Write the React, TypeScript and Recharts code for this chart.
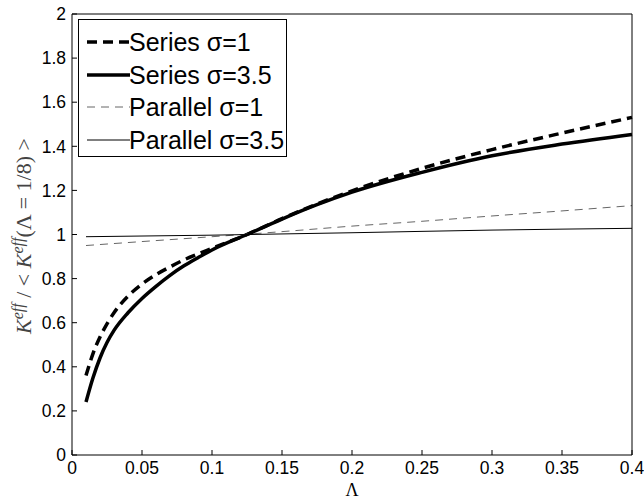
import React from 'react';
import { LineChart, Line, XAxis, YAxis, Legend } from 'recharts';

// Series sigma=1 (thick dashed)
const lambdaSeries1 = [0.01, 0.015, 0.02, 0.025, 0.03, 0.04, 0.05, 0.06, 0.07, 0.08, 0.09, 0.1, 0.125, 0.15, 0.175, 0.2, 0.25, 0.3, 0.35, 0.4];
const kSeries1 = [0.36, 0.46, 0.535, 0.595, 0.645, 0.72, 0.775, 0.818, 0.853, 0.885, 0.912, 0.937, 1.0, 1.072, 1.138, 1.198, 1.3, 1.385, 1.46, 1.531];

// Series sigma=3.5 (thick solid)
const lambdaSeries35 = [0.01, 0.015, 0.02, 0.025, 0.03, 0.04, 0.05, 0.06, 0.07, 0.08, 0.09, 0.1, 0.125, 0.15, 0.175, 0.2, 0.25, 0.3, 0.35, 0.4];
const kSeries35 = [0.24, 0.35, 0.44, 0.51, 0.565, 0.645, 0.71, 0.765, 0.815, 0.858, 0.895, 0.93, 1.0, 1.07, 1.135, 1.192, 1.282, 1.357, 1.41, 1.454];

// Parallel sigma=1 (thin dashed)
const lambdaParallel1 = [0.01, 0.05, 0.1, 0.15, 0.2, 0.25, 0.3, 0.35, 0.4];
const kParallel1 = [0.95, 0.968, 0.99, 1.013, 1.038, 1.06, 1.084, 1.107, 1.131];

// Parallel sigma=3.5 (thin solid)
const lambdaParallel35 = [0.01, 0.1, 0.2, 0.3, 0.4];
const kParallel35 = [0.99, 0.997, 1.008, 1.02, 1.028];

const xTicks = [0, 0.05, 0.1, 0.15, 0.2, 0.25, 0.3, 0.35, 0.4];
const yTicks = [0, 0.2, 0.4, 0.6, 0.8, 1, 1.2, 1.4, 1.6, 1.8, 2];

const seriesNames = ['Series \u03c3=1', 'Series \u03c3=3.5', 'Parallel \u03c3=1', 'Parallel \u03c3=3.5'];

const toPoints = (xs: number[], ys: number[]) => xs.map((x, i) => ({ x, y: ys[i] }));

const styles = [
  { stroke: '#000', strokeWidth: 3.5, dash: '10 6' },
  { stroke: '#000', strokeWidth: 3.5, dash: undefined },
  { stroke: '#666', strokeWidth: 1, dash: '8 6' },
  { stroke: '#000', strokeWidth: 1, dash: undefined },
];

const seriesData = [
  toPoints(lambdaSeries1, kSeries1),
  toPoints(lambdaSeries35, kSeries35),
  toPoints(lambdaParallel1, kParallel1),
  toPoints(lambdaParallel35, kParallel35),
];

const FONT = '"Liberation Sans", Arial, Helvetica, sans-serif';
const SERIF = '"Liberation Serif", "DejaVu Serif", serif';

const LegendBox = () => (
  <div
    style={{
      border: '1px solid #000',
      background: '#fff',
      width: 209,
      height: 138,
      boxSizing: 'border-box',
      paddingTop: 6,
      fontFamily: FONT,
      fontSize: 25,
      color: '#000',
    }}
  >
    {seriesNames.map((name, i) => (
      <div key={name} style={{ display: 'flex', alignItems: 'center', height: 32.5, lineHeight: '32px' }}>
        <svg width={50} height={20} style={{ marginLeft: 7 }}>
          <line
            x1={1}
            y1={10}
            x2={44}
            y2={10}
            stroke={styles[i].stroke}
            strokeWidth={styles[i].strokeWidth}
            strokeDasharray={styles[i].dash}
          />
        </svg>
        <span style={{ whiteSpace: 'nowrap', marginLeft: -7 }}>{name}</span>
      </div>
    ))}
  </div>
);

const YLabel = () => (
  <text
    x={31}
    y={236}
    transform="rotate(-90 31 236)"
    textAnchor="middle"
    fontFamily={SERIF}
    fontSize={22}
    fill="#444"
  >
    <tspan fontStyle="italic">K</tspan>
    <tspan fontStyle="italic" fontSize={16} dy={-8}>eff</tspan>
    <tspan dy={8}>{' / < '}</tspan>
    <tspan fontStyle="italic">K</tspan>
    <tspan fontStyle="italic" fontSize={16} dy={-8}>eff</tspan>
    <tspan dy={8}>{'(\u039b = 1/8) >'}</tspan>
  </text>
);

const XLabel = () => (
  <text x={352} y={496} textAnchor="middle" fontFamily={SERIF} fontSize={18} fill="#000">
    {'\u039b'}
  </text>
);

export default function App() {
  const tickStyle = { fontFamily: FONT, fontSize: 17.5, fill: '#000' };
  return (
    <div style={{ position: 'absolute', left: 0, top: 0, width: 644, height: 500, background: '#fff' }}>
      <LineChart width={644} height={500} margin={{ top: 13, right: 0, bottom: 0, left: 0 }}>
        <XAxis
          xAxisId="b"
          dataKey="x"
          type="number"
          domain={[0, 0.4]}
          ticks={xTicks}
          height={45}
          orientation="bottom"
          tickSize={-5}
          tickMargin={12}
          tick={tickStyle}
          stroke="#000"
          allowDuplicatedCategory={false}
          label={{ content: () => <XLabel /> }}
        />
        <XAxis
          xAxisId="t"
          dataKey="x"
          type="number"
          domain={[0, 0.4]}
          ticks={xTicks}
          height={1}
          orientation="top"
          tickSize={-5}
          tick={false}
          stroke="#000"
          allowDuplicatedCategory={false}
        />
        <YAxis
          yAxisId="l"
          type="number"
          domain={[0, 2]}
          ticks={yTicks}
          width={72}
          orientation="left"
          tickSize={-5}
          tickMargin={11}
          tick={tickStyle}
          stroke="#000"
          label={{ content: () => <YLabel /> }}
        />
        <YAxis
          yAxisId="r"
          type="number"
          domain={[0, 2]}
          ticks={yTicks}
          width={12}
          orientation="right"
          tickSize={-5}
          tick={false}
          stroke="#000"
        />
        {seriesData.map((d, i) => (
          <Line
            key={seriesNames[i]}
            name={seriesNames[i]}
            data={d}
            dataKey="y"
            xAxisId="b"
            yAxisId="l"
            type="monotone"
            stroke={styles[i].stroke}
            strokeWidth={styles[i].strokeWidth}
            strokeDasharray={styles[i].dash}
            dot={false}
            activeDot={false}
            isAnimationActive={false}
          />
        ))}
        <Legend
          layout="vertical"
          align="center"
          verticalAlign="middle"
          content={() => <LegendBox />}
          wrapperStyle={{ position: 'absolute', left: 78, top: 19, width: 'auto', height: 'auto' }}
        />
      </LineChart>
    </div>
  );
}
